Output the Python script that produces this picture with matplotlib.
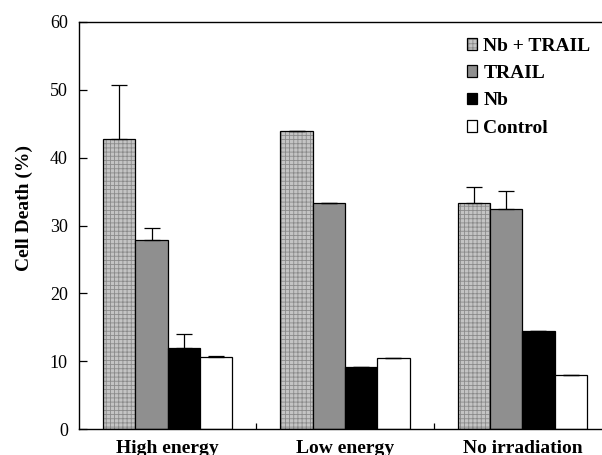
import matplotlib
matplotlib.use("Agg")
import matplotlib.pyplot as plt
import numpy as np

categories = ["High energy", "Low energy", "No irradiation"]
series = ["Nb + TRAIL", "TRAIL", "Nb", "Control"]
nb_trail = [42.7, 43.9, 33.3]
trail = [27.9, 33.3, 32.5]
nb = [11.9, 9.2, 14.4]
control = [10.6, 10.5, 8.0]
err_nb_trail = [8.0, 0.0, 2.3]
err_trail = [1.7, 0.0, 2.6]
err_nb = [2.1, 0.0, 0.0]
err_control = [0.2, 0.0, 0.0]
yticks = [0, 10, 20, 30, 40, 50, 60]

plt.rcParams['font.family'] = ['Liberation Serif', 'DejaVu Serif']
plt.rcParams['hatch.linewidth'] = 0.6

fig = plt.figure(figsize=(6.02, 4.55), dpi=100)
ax = fig.add_axes([79/602, (455-429.3)/455, (611-79)/602, (429.3-21.7)/455])

values = [nb_trail, trail, nb, control]
errs = [err_nb_trail, err_trail, err_nb, err_control]
faces = ['#c4c4c4', '#8f8f8f', '#000000', '#ffffff']
hatches = ['++++', None, None, None]
x = np.arange(len(categories))
w = 0.182
for i, (vals, er, fc, h, lab) in enumerate(zip(values, errs, faces, hatches, series)):
    pos = x + (i - 1.5) * w
    bars = ax.bar(pos, vals, width=w, color=fc, edgecolor='black', linewidth=0.9,
                  hatch=h, label=lab, zorder=2)
    if h:
        for b in bars:
            b._hatch_color = matplotlib.colors.to_rgba('#8a8a8a')
    ax.errorbar(pos, vals, yerr=[np.zeros(len(vals)), er], fmt='none', ecolor='black',
                elinewidth=0.9, capsize=5.5, capthick=0.9, zorder=3)

ax.set_xlim(-0.5, 2.5)
ax.set_ylim(0, 60)
ax.set_yticks(yticks)
ax.tick_params(axis='y', direction='in', length=6, width=0.9, labelsize=13, pad=8)
ax.set_xticks(x)
ax.set_xticklabels(categories, fontsize=14, fontweight='bold')
ax.tick_params(axis='x', which='major', length=0, pad=8)
ax.set_xticks([0.5, 1.5], minor=True)
ax.tick_params(axis='x', which='minor', direction='in', length=4, width=0.9)
for s in ax.spines.values():
    s.set_linewidth(1.0)
ax.spines['right'].set_visible(False)
ax.set_ylabel("Cell Death (%)", fontsize=14, fontweight='bold')
ax.yaxis.set_label_coords((33-79)/532, 0.543)

leg = ax.legend(loc='upper left', bbox_to_anchor=((459-79)/532, 0.98), frameon=False,
                prop={'weight': 'bold', 'size': 14}, handlelength=0.55, handleheight=0.55,
                handletextpad=0.3, labelspacing=0.53, borderaxespad=0)

fig.savefig("out.png", dpi=100)
